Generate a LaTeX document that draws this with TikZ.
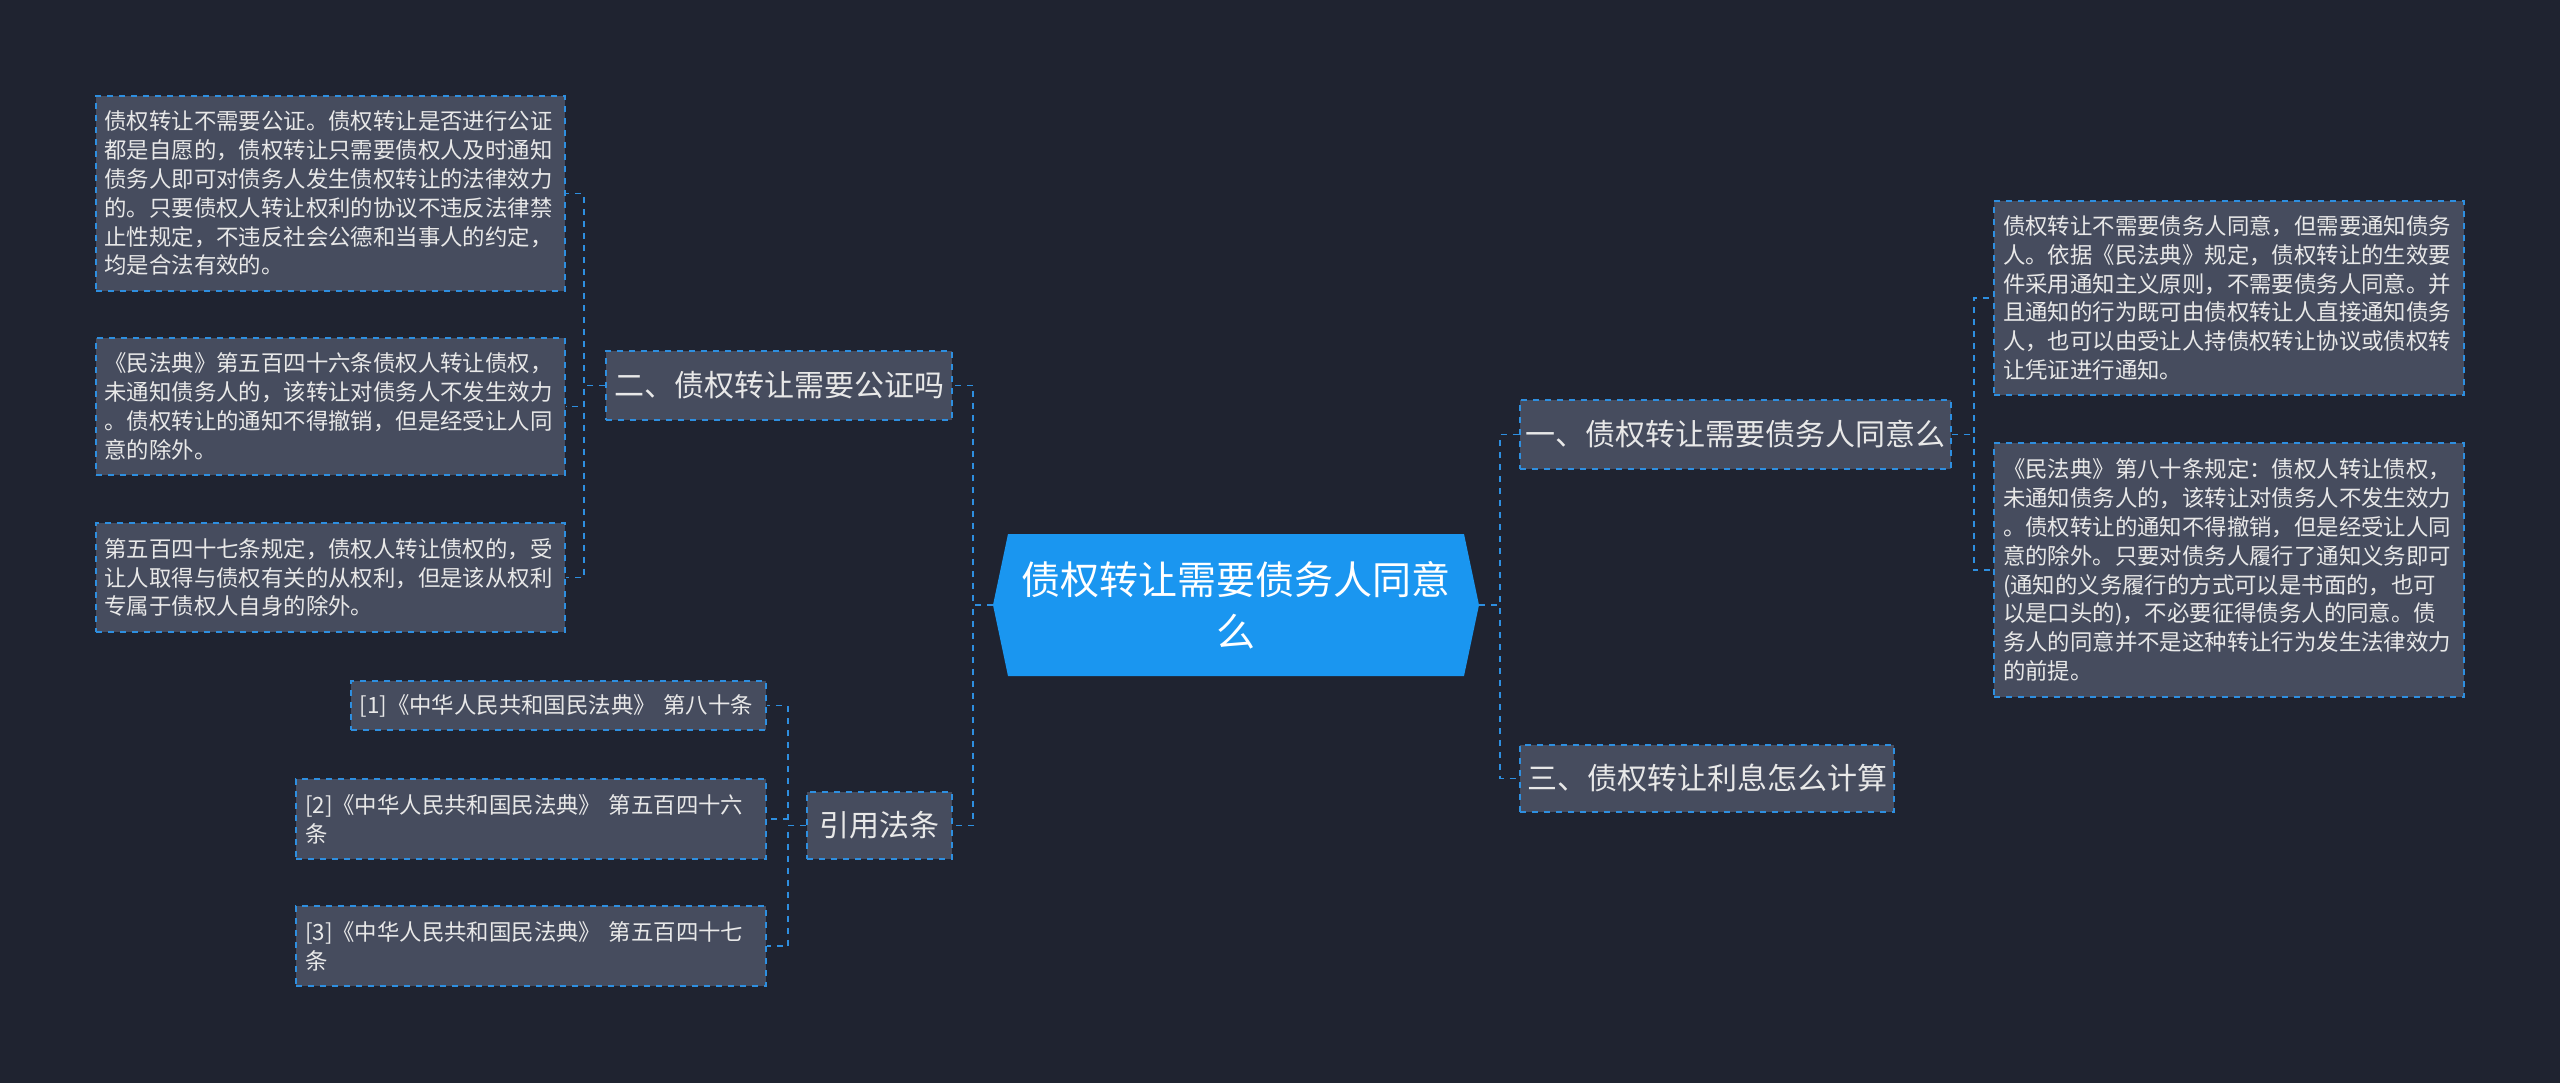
\documentclass[tikz,border=0pt]{standalone}
\usepackage{fontspec}
\setmainfont{Noto Sans CJK SC}
\begin{document}
\begin{tikzpicture}[x=0.5pt,y=-0.5pt,
  leaf/.style={draw=lnblue,dashed,line width=0.8pt,fill=boxgray,text=txt,font=\fontsize{11.2pt}{14.4pt}\selectfont,align=left,inner sep=0pt,anchor=center},
  branch/.style={draw=lnblue,dashed,line width=0.8pt,fill=boxgray,text=txt,font=\fontsize{15pt}{19pt}\selectfont,inner sep=0pt,anchor=center},
  conn/.style={draw=lnblue,dashed,line width=0.9pt}]
\definecolor{bg}{HTML}{1F2330}
\definecolor{boxgray}{HTML}{464C5E}
\definecolor{lnblue}{HTML}{2E8FE0}
\definecolor{txt}{HTML}{E8E8E8}
\definecolor{cblue}{HTML}{1A96F0}
\fill[bg] (0,0) rectangle (2560,1083);
\useasboundingbox (0,0) rectangle (2560,1083);
% center
\fill[cblue] (1008,534) -- (1464,534) -- (1479,605) -- (1464,676) -- (1008,676) -- (993,605) -- cycle;
\node[text=white,font=\fontsize{19.5pt}{26pt}\selectfont,align=center,inner sep=0pt] (c) at (1236,605) {债权转让需要债务人同意\\么};
\coordinate (cw) at (993,605);
\coordinate (ce) at (1479,605);
% left branches
\node[branch,minimum width=173pt,minimum height=34.5pt] (b2) at (779,385.5) {二、债权转让需要公证吗};
\node[branch,minimum width=72.5pt,minimum height=33.5pt] (bc) at (879.5,825.5) {引用法条};
\node[leaf,minimum width=234.5pt,minimum height=97.5pt,text width=226pt] (l1) at (330.5,193.5) {债权转让不需要公证。债权转让是否进行公证\\都是自愿的，债权转让只需要债权人及时通知\\债务人即可对债务人发生债权转让的法律效力\\的。只要债权人转让权利的协议不违反法律禁\\止性规定，不违反社会公德和当事人的约定，\\均是合法有效的。};
\node[leaf,minimum width=234.5pt,minimum height=68.5pt,text width=226pt] (l2) at (330.5,406.5) {《民法典》第五百四十六条债权人转让债权，\\未通知债务人的，该转让对债务人不发生效力\\。债权转让的通知不得撤销，但是经受让人同\\意的除外。};
\node[leaf,minimum width=234.5pt,minimum height=54.5pt,text width=226pt] (l3) at (330.5,577.5) {第五百四十七条规定，债权人转让债权的，受\\让人取得与债权有关的从权利，但是该从权利\\专属于债权人自身的除外。};
\node[leaf,minimum width=207.5pt,minimum height=24.5pt,text width=199pt] (c1) at (558.5,705.5) {[1]《中华人民共和国民法典》 第八十条};
\node[leaf,minimum width=235pt,minimum height=40pt,text width=226pt] (c2) at (531,819) {[2]《中华人民共和国民法典》 第五百四十六\\条};
\node[leaf,minimum width=235pt,minimum height=40pt,text width=226pt] (c3) at (531,946) {[3]《中华人民共和国民法典》 第五百四十七\\条};
% right
\node[branch,minimum width=215.5pt,minimum height=34.5pt] (b1) at (1735.5,434.5) {一、债权转让需要债务人同意么};
\node[branch,minimum width=187pt,minimum height=33.5pt] (b3) at (1707,778.5) {三、债权转让利息怎么计算};
\node[leaf,minimum width=235pt,minimum height=97pt,text width=226pt] (r1) at (2229,298) {债权转让不需要债务人同意，但需要通知债务\\人。依据《民法典》规定，债权转让的生效要\\件采用通知主义原则，不需要债务人同意。并\\且通知的行为既可由债权转让人直接通知债务\\人，也可以由受让人持债权转让协议或债权转\\让凭证进行通知。};
\node[leaf,minimum width=235pt,minimum height=127pt,text width=226pt] (r2) at (2229,570) {《民法典》第八十条规定：债权人转让债权，\\未通知债务人的，该转让对债务人不发生效力\\。债权转让的通知不得撤销，但是经受让人同\\意的除外。只要对债务人履行了通知义务即可\\(通知的义务履行的方式可以是书面的，也可\\以是口头的)，不必要征得债务人的同意。债\\务人的同意并不是这种转让行为发生法律效力\\的前提。};
% connectors
\draw[conn] (cw) -- ++(-20,0) |- (b2.east);
\draw[conn] (cw) -- ++(-20,0) |- (bc.east);
\draw[conn] (ce) -- ++(21,0) |- (b1.west);
\draw[conn] (ce) -- ++(21,0) |- (b3.west);
\draw[conn] (b2.west) -- ++(-21,0) |- (l1.east);
\draw[conn] (b2.west) -- ++(-21,0) |- (l2.east);
\draw[conn] (b2.west) -- ++(-21,0) |- (l3.east);
\draw[conn] (bc.west) -- ++(-18,0) |- (c1.east);
\draw[conn] (bc.west) -- ++(-18,0) |- (c2.east);
\draw[conn] (bc.west) -- ++(-18,0) |- (c3.east);
\draw[conn] (b1.east) -- ++(22,0) |- (r1.west);
\draw[conn] (b1.east) -- ++(22,0) |- (r2.west);
\end{tikzpicture}
\end{document}
